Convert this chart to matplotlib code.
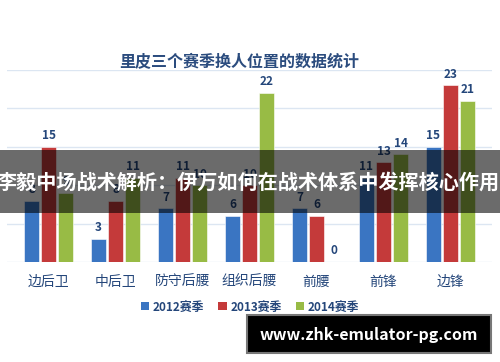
import numpy as np
import matplotlib.pyplot as plt
from matplotlib.patches import Rectangle, Patch

plt.rcParams['font.family'] = ['Noto Sans CJK SC', 'DejaVu Sans']

positions = ["边后卫", "中后卫", "防守后腰", "组织后腰", "前腰", "前锋", "边锋"]
season_names = ["2012赛季", "2013赛季", "2014赛季"]
s2012 = [8, 3, 7, 6, 7, 11, 15]
s2013 = [15, 8, 11, 10, 6, 13, 23]
s2014 = [9, 11, 10, 22, 0, 14, 21]

colors = ["#3a75c2", "#c43a3a", "#98bb45"]
text_col = "#24467a"

fig = plt.figure(figsize=(5, 3.62), dpi=100)
ax = fig.add_axes([0.014, 0.2762, 0.97, 0.5304])

x = np.arange(len(positions))
w = 0.255
for i, vals in enumerate([s2012, s2013, s2014]):
    bars = ax.bar(x + (i - 1) * w, vals, width=0.22, color=colors[i],
                  edgecolor="white", linewidth=0.4, zorder=3)
    for b, v in zip(bars, vals):
        ax.text(b.get_x() + b.get_width() / 2, v + 0.6, str(v), ha="center",
                va="bottom", fontsize=8.5, fontweight="bold", color=text_col, zorder=4)

ax.set_xlim(-0.62, len(positions) - 0.38)
ax.set_ylim(0, 25)
ax.set_yticks(range(0, 26, 5))
ax.yaxis.grid(True, color="#dce6f2", linewidth=1)
ax.set_axisbelow(True)
ax.tick_params(left=False, labelleft=False, bottom=False)
for s in ax.spines.values():
    s.set_visible(False)
ax.set_xticks(x)
ax.set_xticklabels(positions, fontsize=10, color=text_col)
ax.tick_params(axis="x", pad=6)

fig.text(0.478, 1 - 62 / 362, "里皮三个赛季换人位置的数据统计", ha="center", va="center",
         fontsize=11.5, fontweight="bold", color="#2b4c7e")

handles = [Patch(facecolor=c, label=n) for c, n in zip(colors, season_names)]
leg = fig.legend(handles=handles, loc="center", bbox_to_anchor=(0.5, 0.152), ncol=3,
                 frameon=False, fontsize=8.5, handlelength=0.7, handleheight=0.7,
                 handletextpad=0.3, columnspacing=1.2)
for t in leg.get_texts():
    t.set_color(text_col)
    t.set_fontweight("bold")

# banner overlay
fig.patches.append(Rectangle((0, 1 - 213 / 362), 1, 63 / 362, transform=fig.transFigure,
                             facecolor="black", alpha=0.58, zorder=10))
fig.text(0.496, 1 - 182 / 362, "李毅中场战术解析：伊万如何在战术体系中发挥核心作用",
         ha="center", va="center", fontsize=14.5, fontweight="bold", color="white", zorder=11)

# watermark box
fig.patches.append(Rectangle((247 / 500, 1 - 353 / 362), 244 / 500, 38 / 362,
                             transform=fig.transFigure, facecolor="black",
                             edgecolor="#777777", linewidth=1.5, zorder=10))
fig.text(369 / 500, 1 - 335 / 362, "www.zhk-emulator-pg.com", ha="center", va="center",
         fontsize=11.5, fontweight="bold", color="white", zorder=11)

fig.savefig("out.png", dpi=100)
